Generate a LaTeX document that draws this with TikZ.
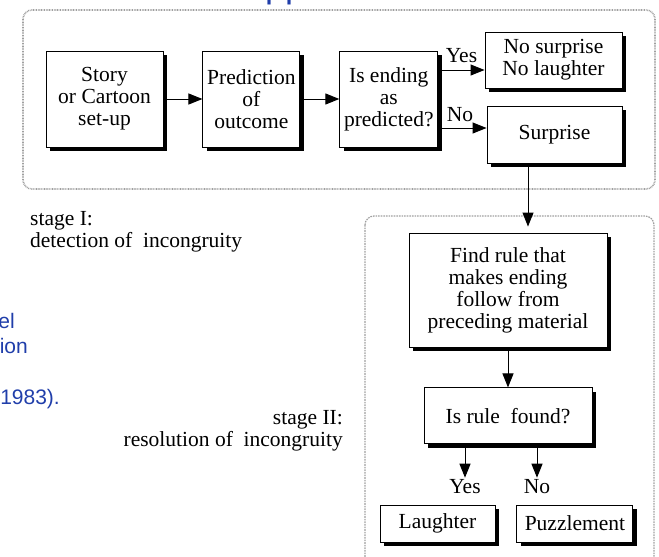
\documentclass[tikz,border=0pt]{standalone}
\usepackage{fontspec}
\setmainfont{Liberation Serif}
\newfontfamily\slidesans{Liberation Sans}
\usepackage{tikz}
\usetikzlibrary{arrows.meta, positioning, shadows}
\definecolor{slideblue}{RGB}{32,62,170}

\begin{document}
\begin{tikzpicture}[
        x=1pt, y=-1pt,
        font=\fontsize{21.5}{22}\selectfont,
        box/.style={rectangle, draw, line width=0.9pt, fill=white, align=center, inner sep=2pt,
            drop shadow={opacity=1, fill=black, shadow xshift=4pt, shadow yshift=-4pt}},
        arr/.style={-{Triangle[length=14pt,width=11pt]}, line width=1pt},
        lbl/.style={inner sep=1pt},
        stage/.style={draw=gray!75, line width=1.6pt, dash pattern=on 0.8pt off 0.8pt, rounded corners=9pt},
        blue/.style={text=slideblue, font=\slidesans\fontsize{21}{25}\selectfont, inner sep=0pt}
    ]
        \useasboundingbox (0,0) rectangle (659,557);
        \clip (0,0) rectangle (659,557);

        % bits of the slide text behind the chart
        \node[blue, anchor=base west, font=\slidesans\fontsize{36}{40}\selectfont] (title) at (265,-3) {pp};
        \node[blue, anchor=base east] (b1) at (15,328) {el};
        \node[blue, anchor=base east] (b2) at (28,353) {ion};
        \node[blue, anchor=base east] (b3) at (60,404) {1983).};

        % the two stages
        \draw[stage] (23,10) rectangle (655,189);
        \draw[stage, line width=1.2pt, dash pattern=on 1.6pt off 1pt] (365,216) rectangle (654,600);

        \node[box, minimum width=117pt, minimum height=96pt] (story) at (104.5,99) {Story\\or Cartoon\\set-up};
        \node[box, minimum width=97pt, minimum height=96pt, right=39pt of story] (pred) {Prediction\\of\\outcome};
        \node[box, minimum width=98pt, minimum height=96pt, right=39pt of pred] (ending) {Is ending\\as\\predicted?};
        \node[box, minimum width=137pt, minimum height=56pt] (nosur) at (553.5,60) {No surprise\\No laughter};
        \node[box, minimum width=135pt, minimum height=57pt] (sur) at (554.5,134.5) {Surprise};

        \node[box, minimum width=198pt, minimum height=114pt] (find) at (508,290) {Find rule that\\makes ending\\follow from\\preceding material};
        \node[box, minimum width=168pt, minimum height=56pt, below=40pt of find] (rule) {Is rule~~found?};
        \node[box, minimum width=115pt, minimum height=37pt] (laugh) at (437.5,523.5) {Laughter};
        \node[box, minimum width=116pt, minimum height=37pt, right=21pt of laugh] (puzz) {Puzzlement};

        \draw[arr] (story) -- (pred);
        \draw[arr] (pred) -- (ending);

        \coordinate (yesout) at ([yshift=29pt]ending.east);
        \coordinate (noout) at ([yshift=-29pt]ending.east);
        \draw[arr] (yesout) -- (yesout -| nosur.west);
        \draw[arr] (noout) -- (noout -| sur.west);
        \node[lbl, anchor=base] (yes1) at (461.5,62) {Yes};
        \node[lbl, anchor=base] (no1) at (460,121) {No};

        \coordinate (drop) at ([xshift=-26.5pt]sur.south);
        \draw[arr, shorten >=6pt] (drop) -- (drop |- find.north);
        \draw[arr] (find) -- (rule);

        \node[lbl, anchor=base] (yes2) at (465,493) {Yes};
        \node[lbl, anchor=base] (no2) at (537,493) {No};
        \draw[arr] (rule.south -| yes2) -- (yes2);
        \draw[arr] (rule.south -| no2) -- (no2);

        \node[inner sep=0pt, anchor=north west, align=left] (st1) at (30,211) {stage I:\\detection of~~incongruity};
        \node[inner sep=0pt, anchor=north east, align=right] (st2) at (343,410) {stage II:\\resolution of~~incongruity};
    \end{tikzpicture}
\end{document}
